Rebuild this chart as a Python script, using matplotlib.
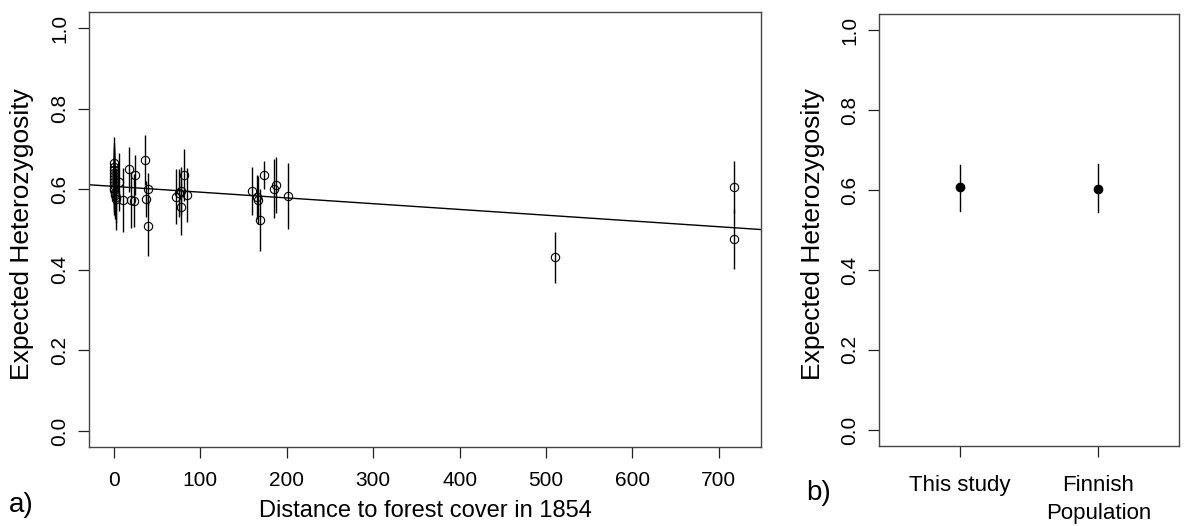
import matplotlib
matplotlib.use('Agg')
import matplotlib.pyplot as plt
import numpy as np

plt.rcParams['font.family'] = ['Liberation Sans', 'DejaVu Sans']

# Panel a) - heterozygosity per site vs distance to forest cover in 1854
distance = [0, 0, 0, 0, 0, 0, 0, 0, 0, 0, 1, 1, 2, 2,
            6, 10, 17, 20, 23, 24, 36, 37, 39, 40,
            72, 75, 78, 78, 81, 85,
            160, 166, 167, 169, 174, 185, 188, 201,
            511, 717, 718]
het = [0.664, 0.655, 0.648, 0.640, 0.632, 0.625, 0.618, 0.610, 0.603, 0.597, 0.590, 0.585, 0.580, 0.575,
       0.618, 0.573, 0.649, 0.573, 0.572, 0.635, 0.672, 0.575, 0.509, 0.601,
       0.581, 0.590, 0.595, 0.556, 0.635, 0.585,
       0.595, 0.580, 0.573, 0.523, 0.635, 0.601, 0.610, 0.583,
       0.431, 0.476, 0.606]
het_err = [0.066, 0.06, 0.06, 0.06, 0.06, 0.06, 0.06, 0.06, 0.06, 0.06, 0.06, 0.06, 0.065, 0.077,
           0.071, 0.08, 0.055, 0.07, 0.065, 0.05, 0.062, 0.045, 0.075, 0.04,
           0.068, 0.06, 0.06, 0.07, 0.065, 0.067,
           0.06, 0.055, 0.06, 0.077, 0.035, 0.073, 0.07, 0.081,
           0.064, 0.075, 0.065]

# regression line (intercept, slope)
fit_intercept = 0.607
fit_slope = -0.000143

# Panel b) - comparison with Finnish population
groups = ['This study', 'Finnish\nPopulation']
group_he = [0.607, 0.603]
group_lo = [0.548, 0.545]
group_hi = [0.663, 0.664]

W, H = 1186, 526
fig = plt.figure(figsize=(W / 100, H / 100), dpi=100)

box_col = '#444444'
fs = 15

def style_axes(ax):
    for s in ax.spines.values():
        s.set_color(box_col)
        s.set_linewidth(1.0)
    ax.tick_params(direction='out', length=8, width=0.9, color='#222222',
                   labelsize=fs, pad=6)
    ax.tick_params(axis='x', pad=9)
    ax.set_yticks([0.0, 0.2, 0.4, 0.6, 0.8, 1.0])
    ax.set_yticklabels(['0.0', '0.2', '0.4', '0.6', '0.8', '1.0'],
                       rotation=90, va='center')
    ax.set_ylim(-0.04, 1.04)

# ---- a)
ax1 = fig.add_axes([89 / W, (H - 447) / H, (761 - 89) / W, (447 - 12) / H])
ax1.errorbar(distance, het, yerr=het_err, fmt='none', ecolor='black',
             elinewidth=1.0, capsize=0)
ax1.plot(distance, het, 'o', mfc='none', mec='black', ms=6, mew=0.8)
xx = np.array([-40, 760])
ax1.plot(xx, fit_intercept + fit_slope * xx, color='black', lw=1.0)
ax1.set_xlim(-28.8, 748.8)
ax1.set_xticks(range(0, 800, 100))
style_axes(ax1)
ax1.set_xlabel('Distance to forest cover in 1854', fontsize=17)
ax1.xaxis.set_label_coords(0.5, -(511 - 447) / 435, transform=ax1.transAxes)
ax1.xaxis.label.set_va('center')
ax1.set_ylabel('Expected Heterozygosity', fontsize=19)
ax1.yaxis.set_label_coords(-(89 - 22) / 672, (447 - 234) / 435)
ax1.yaxis.label.set_va('center')
fig.text(9 / W, 1 - 505 / H, 'a)', fontsize=20, va='center', ha='left')

# ---- b)
ax2 = fig.add_axes([879 / W, (H - 446) / H, 300 / W, 432 / H])
pos = [1, 2]
for p, m, lo, hi in zip(pos, group_he, group_lo, group_hi):
    ax2.plot([p, p], [lo, hi], color='black', lw=1.0)
ax2.plot(pos, group_he, 'o', color='black', ms=6)
ax2.set_xlim(0.42, 2.58)
ax2.set_xticks(pos)
ax2.set_xticklabels(groups, fontsize=16, linespacing=1.45)
style_axes(ax2)
ax2.tick_params(axis='x', pad=13, labelsize=16)
ax2.set_ylabel('Expected Heterozygosity', fontsize=19)
ax2.yaxis.set_label_coords(-(879 - 813) / 300, (446 - 234) / 432)
ax2.yaxis.label.set_va('center')
fig.text(806 / W, 1 - 493 / H, 'b)', fontsize=20, va='center', ha='left')

fig.savefig('out.png', dpi=100)
